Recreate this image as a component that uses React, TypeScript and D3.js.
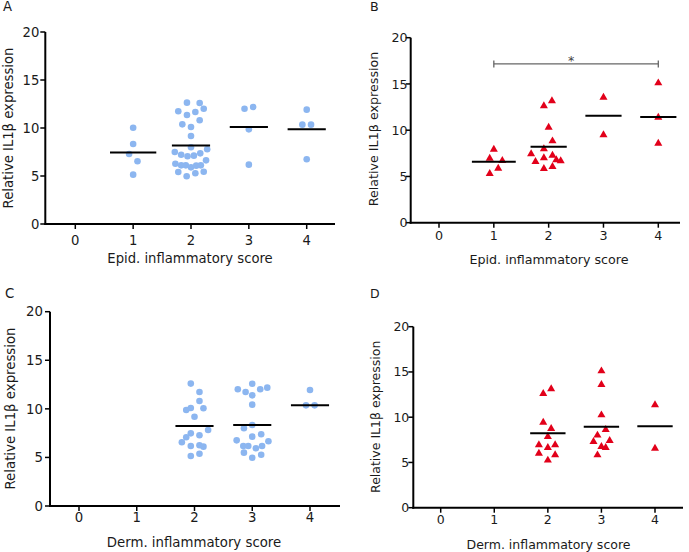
import React from 'react';
import * as d3 from 'd3';

const categories = [0, 1, 2, 3, 4];
const yTicks = [0, 5, 10, 15, 20];

// [score, expression, horizontal jitter as fraction of category step]
const pointsA = [
  [1, 10.03, 0], [1, 8.33, 0], [1, 7.29, -0.07], [1, 6.53, 0.075], [1, 5.14, 0],
  [2, 12.64, -0.07], [2, 12.61, 0.15], [2, 11.74, -0.22], [2, 12.01, 0.22], [2, 11.67, 0.075],
  [2, 11.35, -0.07], [2, 10.8, 0.15], [2, 10.38, -0.15], [2, 10.1, 0], [2, 9.17, 0],
  [2, 7.99, 0], [2, 7.5, -0.28], [2, 7.22, -0.17], [2, 7.05, -0.06], [2, 7.12, 0.05],
  [2, 7.36, 0.16], [2, 7.78, 0.28], [2, 6.28, -0.27], [2, 6.11, -0.17], [2, 6.11, -0.09],
  [2, 5.9, 0], [2, 6.08, 0.09], [2, 6.11, 0.17], [2, 6.63, 0.26], [2, 5.42, -0.22],
  [2, 4.97, -0.075], [2, 5.28, 0.075], [2, 5.45, 0.22],
  [3, 12.01, -0.075], [3, 12.19, 0.075], [3, 9.86, 0], [3, 6.18, 0],
  [4, 11.91, 0], [4, 10.35, -0.075], [4, 10.35, 0.075], [4, 6.74, 0],
];
const meansA = [[1, 7.46], [2, 8.19], [3, 10.1], [4, 9.86]];

const pointsB = [
  [1, 7.93, 0], [1, 6.96, -0.075], [1, 6.7, 0.155], [1, 5.88, 0.08], [1, 5.3, -0.075],
  [2, 13.16, 0.06], [2, 12.62, -0.087], [2, 10.31, 0], [2, 8.83, 0.07], [2, 7.97, -0.087],
  [2, 7.43, -0.32], [2, 7.28, 0.07], [2, 6.6, -0.24], [2, 7.0, -0.087], [2, 6.78, 0.14],
  [2, 6.67, 0.22], [2, 5.84, -0.087], [2, 6.06, 0.07],
  [3, 13.55, 0], [3, 9.48, 0],
  [4, 15.1, 0], [4, 11.39, 0], [4, 8.58, 0],
];
const meansB = [[1, 6.6], [2, 8.22], [3, 11.57], [4, 11.43]];
const signifB = { from: 1, to: 4, level: 17.16, label: '*' };

const pointsC = [
  [2, 12.6, -0.064], [2, 11.73, 0.086], [2, 10.81, 0.086], [2, 10.09, -0.064], [2, 9.88, -0.143],
  [2, 10.06, 0.155], [2, 9.19, 0], [2, 7.48, -0.064], [2, 7.82, 0.236], [2, 7.07, -0.143],
  [2, 7.28, 0.086], [2, 6.56, -0.219], [2, 6.18, -0.064], [2, 6.25, 0.086], [2, 6.11, 0.155],
  [2, 5.15, -0.064], [2, 5.38, 0.086],
  [3, 12.59, 0], [3, 12.01, -0.25], [3, 11.73, -0.115], [3, 12.01, 0.138], [3, 12.18, 0.26],
  [3, 11.39, 0], [3, 10.43, 0], [3, 8.34, 0], [3, 8.0, -0.144], [3, 7.38, 0.155],
  [3, 7.14, 0], [3, 6.76, -0.27], [3, 6.66, 0.28], [3, 6.18, -0.155], [3, 6.18, -0.069],
  [3, 5.94, 0.063], [3, 6.18, 0.17], [3, 5.49, -0.144], [3, 5.28, 0.155], [3, 4.97, 0],
  [4, 11.94, 0], [4, 10.36, -0.069], [4, 10.36, 0.08],
];
const meansC = [[2, 8.23], [3, 8.34], [4, 10.36]];

const pointsD = [
  [2, 13.12, 0.062], [2, 12.6, -0.086], [2, 9.43, -0.086], [2, 8.74, 0.062], [2, 7.85, 0],
  [2, 6.93, -0.167], [2, 6.93, 0.136], [2, 6.63, 0], [2, 6.01, -0.167], [2, 5.83, 0.136],
  [2, 5.24, 0],
  [3, 15.1, 0], [3, 13.6, 0], [3, 10.24, 0], [3, 8.62, 0.08], [3, 8.0, -0.074],
  [3, 7.29, -0.148], [3, 7.4, 0.154], [3, 6.74, 0], [3, 6.63, 0.08], [3, 5.82, -0.074],
  [4, 11.35, 0], [4, 6.56, 0],
];
const meansD = [[2, 8.22], [3, 8.95], [4, 8.99]];

const BLUE = '#8cb6f0';
const RED = '#e2001a';
const FONT = '"DejaVu Sans", Verdana, sans-serif';

type PanelProps = {
  letter: string; letterX: number; letterY: number;
  x0: number; x1: number; c0: number; c4: number; yTop: number; yBot: number;
  points: number[][]; means: number[][]; marker: 'dot' | 'tri';
  xTitle: string; xTitleX: number; xTitleY: number;
  yTitleX: number; yTitleY: number;
  fs: number; xLabOff: number; yLabGap: number;
  signif?: { from: number; to: number; level: number; label: string };
};

const Panel = (p: PanelProps) => {
  const x = d3.scalePoint<number>().domain(categories).range([p.c0, p.c4]);
  const y = d3.scaleLinear().domain([0, 20]).range([p.yBot, p.yTop]);
  const step = x.step();
  const tri = d3.symbol().type(d3.symbolTriangle).size(28)();
  return (
    <g fontFamily={FONT} fontSize={p.fs} fill="#1a1a1a">
      <text x={p.letterX} y={p.letterY}>{p.letter}</text>
      {/* axes */}
      <line x1={p.x0} x2={p.x0} y1={p.yTop} y2={p.yBot + 1} stroke="#000" strokeWidth={2} />
      <line x1={p.x0 - 1} x2={p.x1} y1={p.yBot} y2={p.yBot} stroke="#000" strokeWidth={2} />
      {yTicks.map(t => (
        <g key={'y' + t}>
          <line x1={p.x0 - 5} x2={p.x0} y1={y(t)} y2={y(t)} stroke="#000" strokeWidth={1.5} />
          <text x={p.x0 - p.yLabGap} y={y(t)} dy="0.36em" textAnchor="end">{t}</text>
        </g>
      ))}
      {categories.map(c => (
        <g key={'x' + c}>
          <line x1={x(c)} x2={x(c)} y1={p.yBot} y2={p.yBot + 5} stroke="#000" strokeWidth={1.5} />
          <text x={x(c)} y={p.yBot + p.xLabOff} textAnchor="middle">{c}</text>
        </g>
      ))}
      <text x={p.xTitleX} y={p.xTitleY} textAnchor="middle">{p.xTitle}</text>
      <text transform={`translate(${p.yTitleX},${p.yTitleY}) rotate(-90)`} dy="0.36em" textAnchor="middle">
        Relative IL1β expression
      </text>
      {/* points */}
      {p.points.map((d, i) => {
        const cx = (x(d[0]) as number) + d[2] * step;
        const cy = y(d[1]);
        return p.marker === 'dot'
          ? <circle key={i} cx={cx} cy={cy} r={3.3} fill={BLUE} />
          : <path key={i} d={tri as string} transform={`translate(${cx},${cy})`} fill={RED} />;
      })}
      {/* group means */}
      {p.means.map(d => {
        const half = step * (d[0] === 1 ? 0.4 : 0.33);
        const cx = x(d[0]) as number;
        return <line key={'m' + d[0]} x1={cx - half} x2={cx + half} y1={y(d[1])} y2={y(d[1])} stroke="#000" strokeWidth={2} />;
      })}
      {p.signif && (() => {
        const s = p.signif;
        const xa = x(s.from) as number, xb = x(s.to) as number, yy = y(s.level);
        return (
          <g stroke="#666" strokeWidth={1.3}>
            <line x1={xa} x2={xb} y1={yy} y2={yy} />
            <line x1={xa} x2={xa} y1={yy - 3.5} y2={yy + 3.5} />
            <line x1={xb} x2={xb} y1={yy - 3.5} y2={yy + 3.5} />
            <text x={xa + (xb - xa) * 0.47} y={yy + 1} textAnchor="middle" stroke="none" fill="#444">{s.label}</text>
          </g>
        );
      })()}
    </g>
  );
};

export default function App() {
  return (
    <svg width={689} height={552} style={{ position: 'absolute', left: 0, top: 0, background: '#fff' }}>
      <Panel letter="A" letterX={3} letterY={11} x0={45.3} x1={335} c0={75.3} c4={306.7} yTop={32} yBot={224}
        points={pointsA} means={meansA} marker="dot"
        xTitle="Epid. inflammatory score" xTitleX={190} xTitleY={263}
        yTitleX={8.5} yTitleY={128} fs={13.2} xLabOff={20.5} yLabGap={6} />
      <Panel letter="B" letterX={370} letterY={11} x0={410.7} x1={680} c0={439} c4={658.3} yTop={37.7} yBot={222.7}
        points={pointsB} means={meansB} marker="tri" signif={signifB}
        xTitle="Epid. inflammatory score" xTitleX={549} xTitleY={263.5}
        yTitleX={373} yTitleY={129} fs={12.7} xLabOff={17} yLabGap={3} />
      <Panel letter="C" letterX={5} letterY={298} x0={50} x1={340} c0={79} c4={310} yTop={311.7} yBot={506}
        points={pointsC} means={meansC} marker="dot"
        xTitle="Derm. inflammatory score" xTitleX={194} xTitleY={547}
        yTitleX={10} yTitleY={408.5} fs={13.3} xLabOff={15.5} yLabGap={7} />
      <Panel letter="D" letterX={370} letterY={298} x0={413.3} x1={683} c0={440.7} c4={655} yTop={326.7} yBot={507.7}
        points={pointsD} means={meansD} marker="tri"
        xTitle="Derm. inflammatory score" xTitleX={548.5} xTitleY={549}
        yTitleX={375} yTitleY={416.8} fs={12.5} xLabOff={16} yLabGap={4} />
    </svg>
  );
}
